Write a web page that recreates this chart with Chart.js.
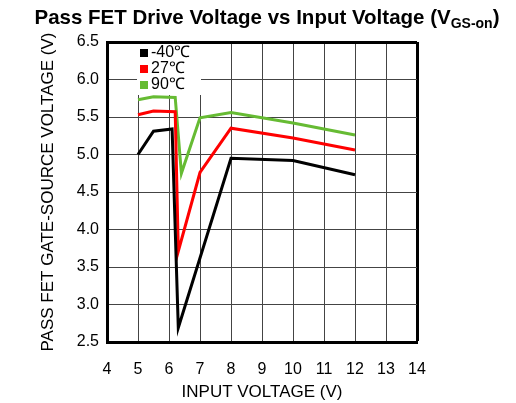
<!DOCTYPE html>
<html>
<head>
<meta charset="utf-8">
<script src="https://cdn.jsdelivr.net/npm/chart.js@4.4.1/dist/chart.umd.min.js"></script>
<style>
  body { margin: 0; background: #fff; }
  #wrap { position: relative; width: 516px; height: 403px; }
  #title {
    position: absolute; left: 0; top: 5px; width: 534px; text-align: center;
    font-family: "Liberation Sans", Arial, sans-serif; font-weight: bold; font-size: 20.5px; color: #000;
    white-space: nowrap;
  }
  #title sub { font-size: 14px; vertical-align: -4px; }
</style>
</head>
<body>
<div id="wrap">
  <div id="title">Pass FET Drive Voltage vs Input Voltage (V<sub>GS-on</sub>)</div>
  <canvas id="myChart" width="516" height="403"></canvas>
</div>
<script>
  // valores
  const seriesNames = ['-40\u2103', '27\u2103', '90\u2103'];
  const seriesColors = ['#000000', '#ff0000', '#66bb33'];

  const xMinus40 = [5, 5.5, 6.1, 6.3, 8, 10, 12];
  const yMinus40 = [5.0, 5.31, 5.34, 2.69, 4.95, 4.92, 4.73];

  const x27 = [5, 5.5, 6.2, 6.3, 7, 8, 10, 12];
  const y27 = [5.53, 5.58, 5.57, 3.71, 4.76, 5.35, 5.22, 5.06];

  const x90 = [5, 5.5, 6.2, 6.4, 7, 8, 10, 12];
  const y90 = [5.73, 5.77, 5.76, 4.75, 5.49, 5.56, 5.42, 5.26];

  const xTicks = [4, 5, 6, 7, 8, 9, 10, 11, 12, 13, 14];
  const yTicks = [2.5, 3.0, 3.5, 4.0, 4.5, 5.0, 5.5, 6.0, 6.5];

  function toPoints(xs, ys) {
    return xs.map((x, i) => ({ x: x, y: ys[i] }));
  }

  const allX = [xMinus40, x27, x90];
  const allY = [yMinus40, y27, y90];

  const datasets = seriesNames.map((name, i) => ({
    label: name,
    data: toPoints(allX[i], allY[i]),
    borderColor: seriesColors[i],
    backgroundColor: seriesColors[i],
    borderWidth: 3,
    pointRadius: 0,
    showLine: true,
    tension: 0
  }));

  // leyenda dentro del area del grafico, con fondo blanco
  const legendBox = {
    id: 'legendBox',
    afterDatasetsDraw(chart) {
      const ctx = chart.ctx;
      ctx.save();
      ctx.fillStyle = '#fff';
      ctx.fillRect(137, 44, 64, 51);
      ctx.font = '16px "Liberation Sans", Arial, sans-serif';
      ctx.textBaseline = 'middle';
      chart.data.datasets.forEach((ds, i) => {
        const yy = 53 + i * 16;
        ctx.fillStyle = ds.borderColor;
        ctx.fillRect(140, yy - 4, 8, 8);
        ctx.fillStyle = '#000';
        ctx.fillText(ds.label, 151, yy);
      });
      ctx.restore();
    }
  };

  const fontTick = { family: '"Liberation Sans", Arial, sans-serif', size: 16 };
  const fontTitle = { family: '"Liberation Sans", Arial, sans-serif', size: 17 };

  const chart = new Chart(document.getElementById('myChart'), {
    type: 'scatter',
    data: { datasets: datasets },
    options: {
      responsive: false,
      animation: false,
      layout: { padding: { top: 42, right: 99, left: 38, bottom: 0 } },
      plugins: { legend: { display: false }, tooltip: { enabled: false } },
      scales: {
        x: {
          min: 4, max: 14,
          afterBuildTicks: (s) => { s.ticks = xTicks.map(v => ({ value: v })); },
          afterFit: (s) => { s.height = 61; },
          ticks: { color: '#000', font: fontTick, padding: 18, callback: (v) => v },
          grid: {
            color: (c) => (c.tick && c.tick.value === 14) ? '#000' : '#444',
            lineWidth: (c) => (c.tick && c.tick.value === 14) ? 3 : 1,
            drawTicks: false
          },
          border: { color: '#000', width: 3 },
          title: {
            display: true, text: 'INPUT VOLTAGE (V)', color: '#000',
            font: fontTitle, padding: { top: 2, bottom: 0 }
          }
        },
        y: {
          min: 2.5, max: 6.5,
          afterBuildTicks: (s) => { s.ticks = yTicks.map(v => ({ value: v })); },
          afterFit: (s) => { s.width = 69; },
          ticks: { color: '#000', font: fontTick, padding: 8, callback: (v) => v.toFixed(1) },
          grid: {
            color: (c) => (c.tick && c.tick.value === 6.5) ? '#000' : '#444',
            lineWidth: (c) => (c.tick && c.tick.value === 6.5) ? 3 : 1,
            drawTicks: false
          },
          border: { color: '#000', width: 3 },
          title: {
            display: true, text: 'PASS FET GATE-SOURCE VOLTAGE (V)', color: '#000',
            font: fontTitle, padding: { top: 0, bottom: 4 }
          }
        }
      }
    },
    plugins: [legendBox]
  });
</script>
</body>
</html>
